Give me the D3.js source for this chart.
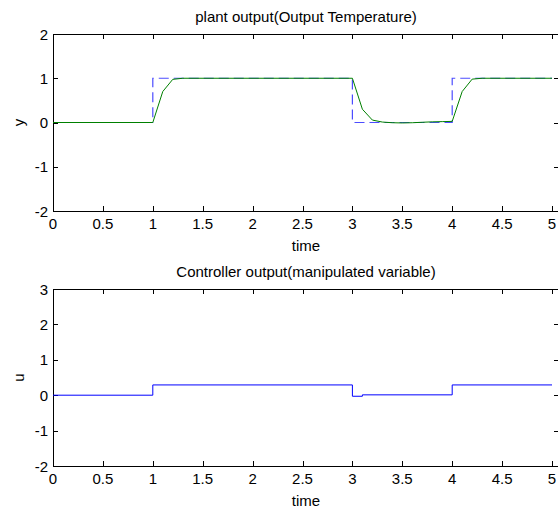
<!DOCTYPE html>
<html lang="en">
<head>
  <meta charset="UTF-8">
  <title>Plant and controller output</title>
  <script src="https://d3js.org/d3.v7.min.js"></script>
  <style>
    body { margin: 0; background: #fff; }
    svg { display: block; font-family: "Liberation Sans", Arial, sans-serif; }
    .tick-label { font-size: 15px; fill: #000; }
    .title, .label { font-size: 15px; fill: #000; }
  </style>
</head>
<body>
  <svg width="558" height="506"></svg>
  <script>
    // x ticks shared by both panels
    const xTicks = [0, 0.5, 1, 1.5, 2, 2.5, 3, 3.5, 4, 4.5, 5];
    const yTicksTop = [-2, -1, 0, 1, 2];
    const yTicksBottom = [-2, -1, 0, 1, 2, 3];

    // set point (dashed blue)
    const setTime = [0, 1, 1, 3, 3, 4, 4, 5];
    const setValue = [0, 0, 1, 1, 0, 0, 1, 1];

    // plant output (green)
    const outTime = [0, 1, 1.1, 1.2, 1.3, 3, 3.1, 3.2, 3.3, 3.4, 3.5, 3.6, 3.7, 3.8, 3.9, 4, 4.1, 4.2, 4.3, 5];
    const outValue = [0, 0, 0.70, 0.975, 1.0, 1.0, 0.30, 0.055, 0.01, -0.005, -0.01, -0.005, 0.005, 0.015, 0.02, 0.025, 0.70, 0.98, 1.0, 1.0];

    // controller output (stairs)
    const ctrlTime = [0, 1, 3, 3.1, 4, 5];
    const ctrlValue = [0, 0.29, -0.03, 0.01, 0.29, 0.29];

    const svg = d3.select("svg");
    const left = 53, right = 559;

    function panel(top, bottom, yTicks, title, ylab) {
      const x = d3.scaleLinear().domain([0, 5]).range([left, 552]);
      const y = d3.scaleLinear().domain([yTicks[0], yTicks[yTicks.length - 1]]).range([bottom, top]);
      const g = svg.append("g");

      // ticks (inward, all four sides)
      xTicks.forEach(t => {
        const px = Math.round(x(t)) + 0.5;
        g.append("line").attr("x1", px).attr("x2", px).attr("y1", bottom).attr("y2", bottom - 5).attr("stroke", "#000");
        g.append("line").attr("x1", px).attr("x2", px).attr("y1", top).attr("y2", top + 5).attr("stroke", "#000");
        g.append("text").attr("class", "tick-label")
          .attr("x", x(t)).attr("y", bottom + 18)
          .attr("text-anchor", "middle").text(t);
      });
      yTicks.forEach(t => {
        const py = Math.round(y(t)) + 0.5;
        g.append("line").attr("x1", left).attr("x2", left + 5).attr("y1", py).attr("y2", py).attr("stroke", "#000");
        g.append("line").attr("x1", right).attr("x2", right - 5).attr("y1", py).attr("y2", py).attr("stroke", "#000");
        g.append("text").attr("class", "tick-label")
          .attr("x", left - 5).attr("y", y(t) + 5.5)
          .attr("text-anchor", "end").text(t);
      });

      g.append("rect")
        .attr("x", left + 0.5).attr("y", top + 0.5)
        .attr("width", right - left).attr("height", bottom - top)
        .attr("fill", "none").attr("stroke", "#000");

      g.append("text").attr("class", "title")
        .attr("x", (left + right) / 2).attr("y", top - 12)
        .attr("text-anchor", "middle").text(title);
      g.append("text").attr("class", "label")
        .attr("x", (left + right) / 2).attr("y", bottom + 40)
        .attr("text-anchor", "middle").text("time");
      g.append("text").attr("class", "label")
        .attr("transform", `translate(24,${(top + bottom) / 2}) rotate(-90)`)
        .attr("text-anchor", "middle").text(ylab);

      return { g, x, y };
    }

    const p1 = panel(34, 211, yTicksTop, "plant output(Output Temperature)", "y");
    const line1 = d3.line().x(d => p1.x(d[0])).y(d => p1.y(d[1]));
    p1.g.append("path")
      .datum(d3.zip(setTime, setValue))
      .attr("d", line1)
      .attr("fill", "none").attr("stroke", "#0000ff").attr("stroke-opacity", 0.7)
      .attr("stroke-width", 1.2).attr("stroke-dasharray", "10,5");
    p1.g.append("path")
      .datum(d3.zip(outTime, outValue))
      .attr("d", line1)
      .attr("fill", "none").attr("stroke", "#008000").attr("stroke-width", 1);

    const p2 = panel(289, 466, yTicksBottom, "Controller output(manipulated variable)", "u");
    const line2 = d3.line().x(d => p2.x(d[0])).y(d => p2.y(d[1])).curve(d3.curveStepAfter);
    p2.g.append("path")
      .datum(d3.zip(ctrlTime, ctrlValue))
      .attr("d", line2)
      .attr("fill", "none").attr("stroke", "#0000ff").attr("stroke-width", 1);
  </script>
</body>
</html>
